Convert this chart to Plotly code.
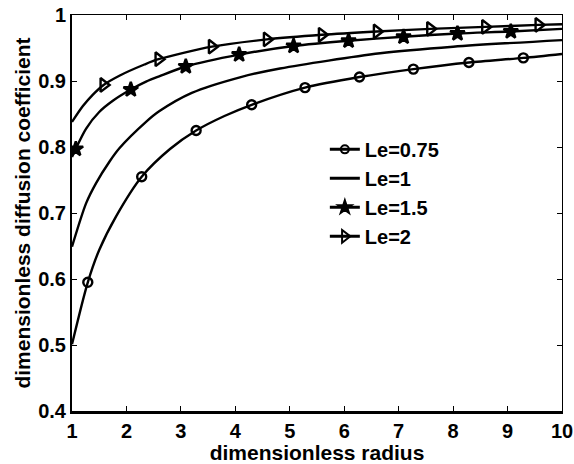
import plotly.graph_objects as go

# ---- data ----
x_075 = [1, 1.29, 1.5, 1.81, 2.28, 2.8, 3.28, 3.8, 4.3, 5.28, 6.28, 7.27, 8.29, 9.29, 10]
y_075 = [0.501, 0.595, 0.644, 0.695, 0.755, 0.797, 0.825, 0.847, 0.864, 0.890, 0.906, 0.918, 0.928, 0.935, 0.941]
mx_075 = [1.29, 2.28, 3.28, 4.3, 5.28, 6.28, 7.27, 8.29, 9.29]
my_075 = [0.595, 0.755, 0.825, 0.864, 0.890, 0.906, 0.918, 0.928, 0.935]

x_1 = [1, 1.26, 1.44, 1.69, 1.87, 2.36, 2.6, 3.2, 4.1, 4.82, 6.66, 8, 10]
y_1 = [0.649, 0.715, 0.745, 0.778, 0.798, 0.838, 0.854, 0.882, 0.906, 0.919, 0.942, 0.952, 0.962]

x_15 = [1, 1.26, 1.5, 1.75, 2.08, 2.36, 2.6, 3.09, 4.07, 5.07, 6.08, 7.09, 8.08, 9.06, 10]
y_15 = [0.785, 0.828, 0.853, 0.870, 0.887, 0.899, 0.907, 0.922, 0.940, 0.953, 0.961, 0.967, 0.972, 0.975, 0.979]
mx_15 = [1.07, 2.08, 3.09, 4.07, 5.07, 6.08, 7.09, 8.08, 9.06]
my_15 = [0.797, 0.887, 0.922, 0.940, 0.953, 0.961, 0.967, 0.972, 0.975]

x_2 = [1, 1.2, 1.38, 1.58, 1.87, 2.33, 2.59, 3.57, 4.58, 5.59, 6.6, 7.58, 8.59, 9.57, 10]
y_2 = [0.838, 0.862, 0.879, 0.894, 0.908, 0.925, 0.933, 0.952, 0.963, 0.970, 0.975, 0.979, 0.982, 0.985, 0.986]
mx_2 = [1.58, 2.59, 3.57, 4.58, 5.59, 6.6, 7.58, 8.59, 9.57]
my_2 = [0.894, 0.933, 0.952, 0.963, 0.970, 0.975, 0.979, 0.982, 0.985]

labels = ["Le=0.75", "Le=1", "Le=1.5", "Le=2"]
x_ticks = [1, 2, 3, 4, 5, 6, 7, 8, 9, 10]
y_ticks = [0.4, 0.5, 0.6, 0.7, 0.8, 0.9, 1.0]
y_ticktext = ["0.4", "0.5", "0.6", "0.7", "0.8", "0.9", "1"]

FONT = "Liberation Sans, Arial, sans-serif"
LW = 2.4

fig = go.Figure()

series = [
    (x_075, y_075, mx_075, my_075, "circle-open", 9, labels[0]),
    (x_1, y_1, None, None, None, 0, labels[1]),
    (x_15, y_15, mx_15, my_15, "star", 11, labels[2]),
    (x_2, y_2, mx_2, my_2, "triangle-right-open", 12, labels[3]),
]

for i, (xs, ys, mxs, mys, sym, ms, lab) in enumerate(series):
    fig.add_trace(go.Scatter(x=xs, y=ys, mode="lines",
                             line=dict(color="black", width=LW, shape="spline", smoothing=0.8),
                             showlegend=False, hoverinfo="skip"))
    if mxs is not None:
        fig.add_trace(go.Scatter(x=mxs, y=mys, mode="markers",
                                 marker=dict(symbol=sym, size=ms, color="black",
                                             line=dict(color="black", width=2.4)),
                                 showlegend=False, hoverinfo="skip"))
    if sym is None:
        fig.add_trace(go.Scatter(x=[None], y=[None], mode="lines", name=lab,
                                 legendgroup=lab,
                                 line=dict(color="black", width=3)))
    else:
        fig.add_trace(go.Scatter(x=[None], y=[None], mode="lines+markers", name=lab,
                                 legendgroup=lab,
                                 line=dict(color="black", width=3),
                                 marker=dict(symbol=sym, size=ms - 1, color="black",
                                             line=dict(color="black", width=2))))

# invisible trace for top/right thin axes
fig.add_trace(go.Scatter(x=[1], y=[0.4], xaxis="x2", yaxis="y2", mode="markers",
                         marker=dict(opacity=0), showlegend=False, hoverinfo="skip"))

tick_font = dict(family=FONT, size=20, color="black", weight="bold")
title_font = dict(family=FONT, size=21, color="black", weight="bold")

fig.update_layout(
    width=574, height=464,
    margin=dict(l=72, r=12, t=15, b=52.5, autoexpand=False),
    paper_bgcolor="white", plot_bgcolor="white",
    font=dict(family=FONT, color="black"),
    showlegend=True,
    legend=dict(x=0.516, y=0.71, xanchor="left", yanchor="top",
                bgcolor="rgba(255,255,255,0)", borderwidth=0,
                font=dict(family=FONT, size=20, color="black", weight="bold"),
                tracegroupgap=0, itemwidth=30),
    xaxis=dict(range=[1, 10], tickmode="array", tickvals=x_ticks,
               ticks="inside", ticklen=5, tickwidth=1, tickcolor="black",
               showline=True, linecolor="black", linewidth=2.5,
               showgrid=False, zeroline=False, mirror=False, automargin=False,
               tickfont=tick_font,
               title=dict(text="dimensionless radius", font=title_font, standoff=2)),
    yaxis=dict(range=[0.4, 1.0], tickmode="array", tickvals=y_ticks, ticktext=y_ticktext,
               ticks="inside", ticklen=5, tickwidth=1, tickcolor="black",
               showline=True, linecolor="black", linewidth=2,
               showgrid=False, zeroline=False, mirror=False, automargin=False,
               tickfont=tick_font,
               title=dict(text="dimensionless diffusion coefficient", font=title_font, standoff=2)),
    xaxis2=dict(range=[1, 10], overlaying="x", side="top", anchor="y2",
                tickmode="array", tickvals=x_ticks, ticks="inside", ticklen=5,
                tickwidth=1, tickcolor="black", showticklabels=False,
                showline=True, linecolor="black", linewidth=1,
                showgrid=False, zeroline=False, automargin=False),
    yaxis2=dict(range=[0.4, 1.0], overlaying="y", side="right", anchor="x2",
                tickmode="array", tickvals=y_ticks, ticks="inside", ticklen=5,
                tickwidth=1, tickcolor="black", showticklabels=False,
                showline=True, linecolor="black", linewidth=1,
                showgrid=False, zeroline=False, automargin=False),
)

fig.write_html("out.html")
